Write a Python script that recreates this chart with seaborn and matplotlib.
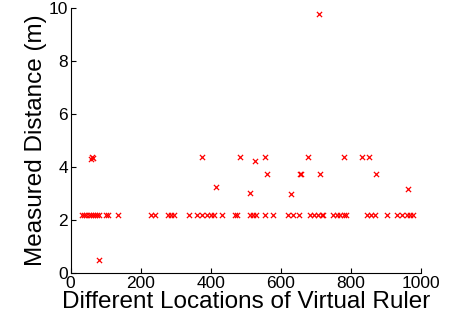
import matplotlib
matplotlib.use("Agg")
import matplotlib.pyplot as plt
import seaborn as sns
import pandas as pd

# Points on the ~2.18 m row
row_x = [31, 38, 45, 52, 58, 64, 70, 76, 81, 101, 108, 135, 229, 241, 277, 286, 295,
         338, 362, 375, 388, 400, 410, 431, 469, 476, 513, 521, 530, 556, 579, 622,
         636, 652, 683, 695, 706, 718, 722, 749, 760, 770, 780, 787, 845, 857, 870,
         903, 931, 945, 960, 970, 979]
row_y = [2.18] * len(row_x)

# Other points
other_x = [58, 62, 65, 376, 484, 416, 526, 555, 679, 782, 831, 853, 562, 655, 659,
           712, 871, 512, 629, 964, 710, 80]
other_y = [4.30, 4.37, 4.33, 4.37, 4.37, 3.25, 4.21, 4.37, 4.37, 4.37, 4.37, 4.37,
           3.72, 3.72, 3.72, 3.72, 3.72, 3.03, 2.97, 3.17, 9.78, 0.50]

x_ticks = [0, 200, 400, 600, 800, 1000]
y_ticks = [0, 2, 4, 6, 8, 10]

df = pd.DataFrame({"loc": row_x + other_x, "dist": row_y + other_y})

sns.set_style("white")
plt.rcParams["font.family"] = ["Liberation Sans", "DejaVu Sans"]
plt.rcParams["text.color"] = "black"
plt.rcParams["axes.labelcolor"] = "black"

fig = plt.figure(figsize=(4.65, 3.29), dpi=100)
ax = fig.add_axes([0.152, 0.170, 0.753, 0.806])

sns.scatterplot(data=df, x="loc", y="dist", marker="x", color="#ff0000",
                s=14, linewidth=0.9, ax=ax, legend=False)

ax.set_xlim(0, 1000)
ax.set_ylim(0, 10)
ax.set_xticks(x_ticks)
ax.set_yticks(y_ticks)
ax.tick_params(direction="in", length=3.5, width=0.8, labelsize=12.5, pad=2,
               colors="black", labelcolor="black", left=True, bottom=True)
for s in ["top", "right"]:
    ax.spines[s].set_visible(False)
for s in ["left", "bottom"]:
    ax.spines[s].set_color("black")
    ax.spines[s].set_linewidth(0.8)
ax.set_xlabel("Different Locations of Virtual Ruler", fontsize=17.5, labelpad=0,
              color="black")
ax.set_ylabel("Measured Distance (m)", fontsize=17.5, labelpad=1, color="black")

fig.savefig("out.png", dpi=100)
